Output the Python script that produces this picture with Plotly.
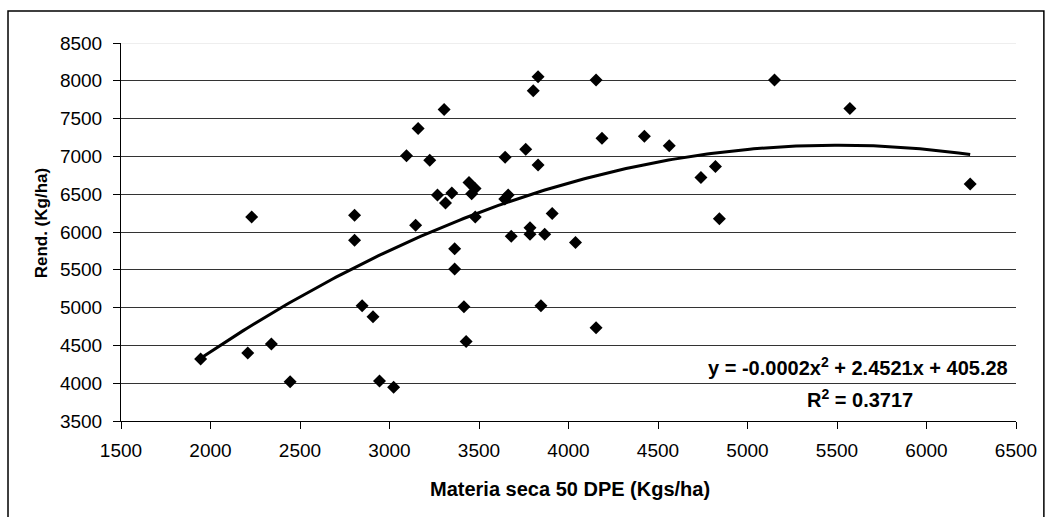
import numpy as np
import plotly.graph_objects as go

# Dry matter at 50 days after emergence (kg/ha) vs. yield (kg/ha)
materia_seca = [
    1945, 2208, 2340, 2445, 2230,
    2805, 2805, 3095, 3160, 3305, 3225, 3268, 3348, 3313, 3444,
    3478, 3459, 3479, 3146, 3364, 3646, 3761, 3830, 3803, 3830,
    4154, 4187, 4424, 4563, 3644, 3663, 3680, 3785, 3785, 3867,
    3909, 4039, 3364, 2847, 2908, 3416, 3846, 4154, 3428, 2944,
    3023, 5151, 5572, 4740, 4821, 4843, 6244,
]
rendimiento = [
    4320, 4400, 4520, 4020, 6200,
    6220, 5890, 7010, 7370, 7620, 6950, 6490, 6515, 6385, 6655,
    6575, 6505, 6200, 6090, 5780, 6990, 7095, 6885, 7870, 8055,
    8010, 7240, 7265, 7140, 6435, 6490, 5945, 6055, 5970, 5970,
    6245, 5860, 5510, 5025, 4880, 5010, 5025, 4735, 4550, 4030,
    3945, 8010, 7635, 6720, 6865, 6175, 6635,
]

# Polynomial trendline (order 2) and its coefficient of determination
coef = [-0.0002229, 2.4521, 405.28]
r2 = 0.3717

x_ticks = [1500, 2000, 2500, 3000, 3500, 4000, 4500, 5000, 5500, 6000, 6500]
y_ticks = [3500, 4000, 4500, 5000, 5500, 6000, 6500, 7000, 7500, 8000, 8500]

FONT = "Arial, Liberation Sans, sans-serif"

xs = np.linspace(min(materia_seca), max(materia_seca), 200)
ys = np.polyval(coef, xs)

fig = go.Figure()
fig.add_trace(go.Scatter(
    x=materia_seca, y=rendimiento, mode="markers",
    marker=dict(symbol="diamond", size=10, color="black"),
    showlegend=False, hoverinfo="x+y",
))
fig.add_trace(go.Scatter(
    x=xs, y=ys, mode="lines",
    line=dict(color="black", width=3),
    showlegend=False, hoverinfo="skip",
))

L, R, T, B = 121, 29, 43, 96
W, H = 1049, 517
pw, ph = W - L - R, H - T - B

def px_x(p):
    return (p - L) / pw

def px_y(p):
    return (H - B - p) / ph

fig.update_layout(
    width=W, height=H,
    margin=dict(l=L, r=R, t=T, b=B, pad=0),
    paper_bgcolor="white", plot_bgcolor="white",
    font=dict(family=FONT, size=19, color="black"),
    xaxis=dict(
        range=[x_ticks[0], x_ticks[-1]], tickvals=x_ticks,
        showgrid=False, zeroline=False,
        showline=True, linecolor="black", linewidth=1,
        ticks="outside", ticklen=7, tickcolor="black", tickwidth=1,
        tickfont=dict(size=19), ticklabelstandoff=5,
    ),
    yaxis=dict(
        range=[y_ticks[0], y_ticks[-1]], tickvals=y_ticks,
        showgrid=True, gridcolor="#333333", gridwidth=1,
        zeroline=False,
        showline=True, linecolor="black", linewidth=1,
        ticks="outside", ticklen=7, tickcolor="black", tickwidth=1,
        tickfont=dict(size=19), ticklabelstandoff=7,
    ),
    shapes=[
        # lighter top gridline
        dict(type="line", xref="x", yref="y", x0=x_ticks[0], x1=x_ticks[-1],
             y0=y_ticks[-1], y1=y_ticks[-1], line=dict(color="#dddddd", width=1),
             layer="above"),
        # chart frame
        dict(type="rect", xref="paper", yref="paper",
             x0=px_x(7.5), x1=px_x(1048), y0=px_y(525), y1=px_y(11),
             line=dict(color="black", width=1.5), layer="below"),
    ],
    annotations=[
        dict(text="<b>Materia seca 50 DPE (Kgs/ha)</b>", xref="paper", yref="paper",
             x=px_x(572), y=px_y(489), showarrow=False,
             xanchor="center", yanchor="middle", font=dict(size=20)),
        dict(text="<b>Rend. (Kg/ha)</b>", xref="paper", yref="paper",
             x=px_x(41), y=px_y(223), showarrow=False, textangle=-90,
             xanchor="center", yanchor="middle", font=dict(size=17)),
        dict(text="<b>y = %.4fx<sup>2</sup> + %.4fx + %.2f</b>" % tuple(coef),
             xref="paper", yref="paper",
             x=px_x(861), y=px_y(366), showarrow=False,
             xanchor="center", yanchor="middle", font=dict(size=20)),
        dict(text="<b>R<sup>2</sup> = %.4f</b>" % r2,
             xref="paper", yref="paper",
             x=px_x(863), y=px_y(398), showarrow=False,
             xanchor="center", yanchor="middle", font=dict(size=20)),
    ],
)

fig.write_html("out.html")
